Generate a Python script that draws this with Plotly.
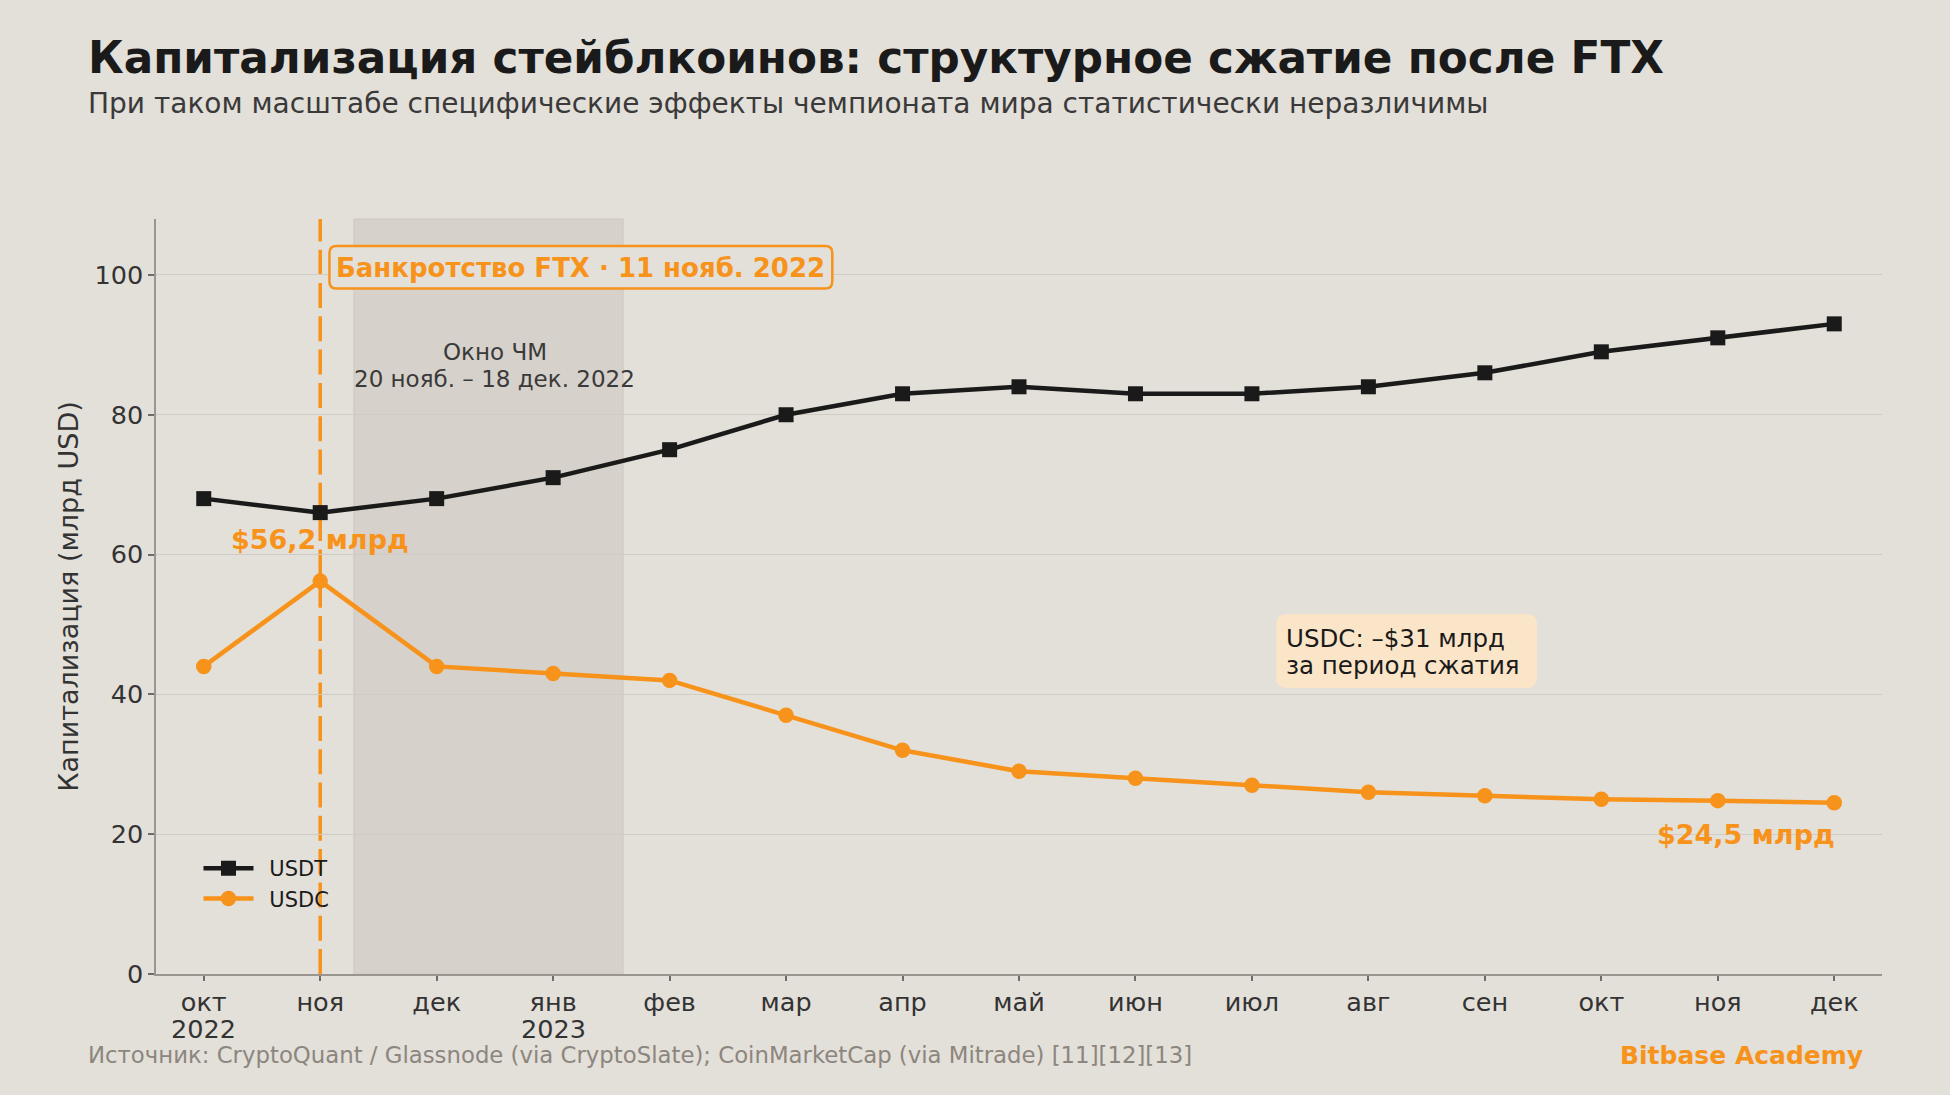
import plotly.graph_objects as go

months = ["окт", "ноя", "дек", "янв", "фев", "мар", "апр", "май", "июн",
          "июл", "авг", "сен", "окт", "ноя", "дек"]
years = {0: "2022", 3: "2023"}
usdt = [68, 66, 68, 71, 75, 80, 83, 84, 83, 83, 84, 86, 89, 91, 93]
usdc = [44, 56.2, 44, 43, 42, 37, 32, 29, 28, 27, 26, 25.5, 25, 24.8, 24.5]
x_idx = list(range(len(months)))

BG = "#e3dfd9"
ORANGE = "#f7931a"
BLACK = "#1a1a1a"
FONT = "DejaVu Sans"

# plot area geometry (px) for converting layout positions
L, R, T, B = 155.5, 1882.0, 219.0, 974.0
XR = (-0.41, 14.41)
YR = (0, 108)


def px_x(px):
    return (px - L) / (R - L)


def px_y(py):
    return (B - py) / (B - T)


def dx(px):
    return XR[0] + (px - L) / (R - L) * (XR[1] - XR[0])


def dy(py):
    return YR[0] + (B - py) / (B - T) * (YR[1] - YR[0])


def rounded(x0p, x1p, y0p, y1p, r):
    x0, x1 = dx(x0p), dx(x1p)
    yt, yb = dy(y0p), dy(y1p)
    rx = r / (R - L) * (XR[1] - XR[0])
    ry = r / (B - T) * (YR[1] - YR[0])
    return (f"M {x0+rx},{yt} L {x1-rx},{yt} Q {x1},{yt} {x1},{yt-ry} "
            f"L {x1},{yb+ry} Q {x1},{yb} {x1-rx},{yb} L {x0+rx},{yb} "
            f"Q {x0},{yb} {x0},{yb+ry} L {x0},{yt-ry} Q {x0},{yt} {x0+rx},{yt} Z")


fig = go.Figure()

fig.add_trace(go.Scatter(
    x=x_idx, y=usdt, name="\u00a0\u2009USDT", mode="lines+markers",
    line=dict(color=BLACK, width=4.5),
    marker=dict(symbol="square", size=15, color=BLACK),
))
fig.add_trace(go.Scatter(
    x=x_idx, y=usdc, name="\u00a0\u2009USDC", mode="lines+markers",
    line=dict(color=ORANGE, width=4.5),
    marker=dict(symbol="circle", size=15.5, color=ORANGE),
))

# World Cup window shading
fig.add_shape(type="rect", xref="x", yref="paper", x0=1.29, x1=3.6, y0=0, y1=1,
              fillcolor="#d6d1ca", line=dict(color="#cdc8c0", width=1), layer="below")
# FTX bankruptcy line
fig.add_shape(type="line", xref="x", yref="paper", x0=1, x1=1, y0=0, y1=1,
              line=dict(color=ORANGE, width=3.5, dash="25px,8.3px"), layer="between")

# FTX label box (rounded)
fig.add_shape(type="path", xref="x", yref="y", path=rounded(329, 832, 246, 288.5, 7),
              fillcolor=BG, line=dict(color=ORANGE, width=2.5), layer="above")
fig.add_annotation(x=(dx(329) + dx(832)) / 2, y=dy(267.5), xref="x", yref="y",
                   xanchor="center", yanchor="middle",
                   text="<b>Банкротство FTX · 11 нояб. 2022</b>", showarrow=False,
                   font=dict(family=FONT, size=26, color=ORANGE))

# World Cup window label (two lines, tight spacing)
fig.add_annotation(x=2.5, y=dy(352), xref="x", yref="y", xanchor="center", yanchor="middle",
                   text="Окно ЧМ", showarrow=False,
                   font=dict(family=FONT, size=23, color="#3a3a3a"))
fig.add_annotation(x=2.5, y=dy(379), xref="x", yref="y", xanchor="center", yanchor="middle",
                   text="20 нояб. – 18 дек. 2022", showarrow=False,
                   font=dict(family=FONT, size=23, color="#3a3a3a"))

fig.add_annotation(x=1, y=62.1, xref="x", yref="y", xanchor="center", yanchor="middle",
                   text="<b>$56,2 млрд</b>", showarrow=False,
                   font=dict(family=FONT, size=27, color=ORANGE))
fig.add_annotation(x=14.02, y=20, xref="x", yref="y", xanchor="right", yanchor="middle",
                   text="<b>$24,5 млрд</b>", showarrow=False,
                   font=dict(family=FONT, size=27, color=ORANGE))

# USDC box (rounded)
fig.add_shape(type="path", xref="x", yref="y", path=rounded(1276, 1537, 614, 688, 11),
              fillcolor="#fbe5c8", line=dict(width=0), layer="above")
fig.add_annotation(x=dx(1284), y=dy(638), xref="x", yref="y", xanchor="left", yanchor="middle",
                   text="USDC: –$31 млрд", showarrow=False, align="left",
                   font=dict(family=FONT, size=24.5, color=BLACK))
fig.add_annotation(x=dx(1284), y=dy(665), xref="x", yref="y", xanchor="left", yanchor="middle",
                   text="за период сжатия", showarrow=False, align="left",
                   font=dict(family=FONT, size=24.5, color=BLACK))

# year labels under ticks
for i, yr in years.items():
    fig.add_annotation(x=i, y=px_y(1029), xref="x", yref="paper", xanchor="center",
                       yanchor="middle", text=yr, showarrow=False,
                       font=dict(family=FONT, size=25.5, color="#333333"))

fig.add_annotation(x=px_x(85), y=px_y(58), xref="paper", yref="paper",
                   xanchor="left", yanchor="middle", showarrow=False,
                   text="<b>Капитализация стейблкоинов: структурное сжатие после FTX</b>",
                   font=dict(family=FONT, size=43.7, color=BLACK))
fig.add_annotation(x=px_x(85), y=px_y(103), xref="paper", yref="paper",
                   xanchor="left", yanchor="middle", showarrow=False,
                   text="При таком масштабе специфические эффекты чемпионата мира статистически неразличимы",
                   font=dict(family=FONT, size=28, color="#3a3a3a"))
fig.add_annotation(x=px_x(85), y=px_y(1055), xref="paper", yref="paper",
                   xanchor="left", yanchor="middle", showarrow=False,
                   text="Источник: CryptoQuant / Glassnode (via CryptoSlate); CoinMarketCap (via Mitrade) [11][12][13]",
                   font=dict(family=FONT, size=22.8, color="#8c867e"))
fig.add_annotation(x=px_x(1865), y=px_y(1055), xref="paper", yref="paper",
                   xanchor="right", yanchor="middle", showarrow=False,
                   text="<b>Bitbase Academy</b>",
                   font=dict(family=FONT, size=25, color=ORANGE))

fig.update_layout(
    width=1950, height=1095,
    paper_bgcolor=BG, plot_bgcolor=BG,
    margin=dict(l=L, r=1950 - R, t=T, b=1095 - B),
    font=dict(family=FONT, color="#333333"),
    showlegend=True,
    legend=dict(x=px_x(198), y=px_y(848), xanchor="left", yanchor="top",
                bgcolor="rgba(0,0,0,0)", font=dict(family=FONT, size=21, color=BLACK),
                itemwidth=50, tracegroupgap=2),
)
fig.update_xaxes(
    range=list(XR), tickmode="array", tickvals=x_idx, ticktext=months,
    showgrid=False, zeroline=False, showline=True, linecolor="#9a958e", linewidth=1.5,
    ticks="outside", ticklen=5, tickcolor="#6e6a65", tickwidth=1.5,
    tickfont=dict(family=FONT, size=25.5, color="#333333"),
)
fig.update_yaxes(
    range=list(YR), tickvals=[0, 20, 40, 60, 80, 100],
    showgrid=True, gridcolor="#d0cbc4", gridwidth=1.2, zeroline=False,
    showline=True, linecolor="#9a958e", linewidth=1.5,
    ticks="outside", ticklen=6, tickcolor="#6e6a65", tickwidth=1.5,
    tickfont=dict(family=FONT, size=25.5, color="#333333"),
    title=dict(text="Капитализация (млрд USD)", standoff=8,
               font=dict(family=FONT, size=27, color="#333333")),
)

fig.write_html("out.html")
